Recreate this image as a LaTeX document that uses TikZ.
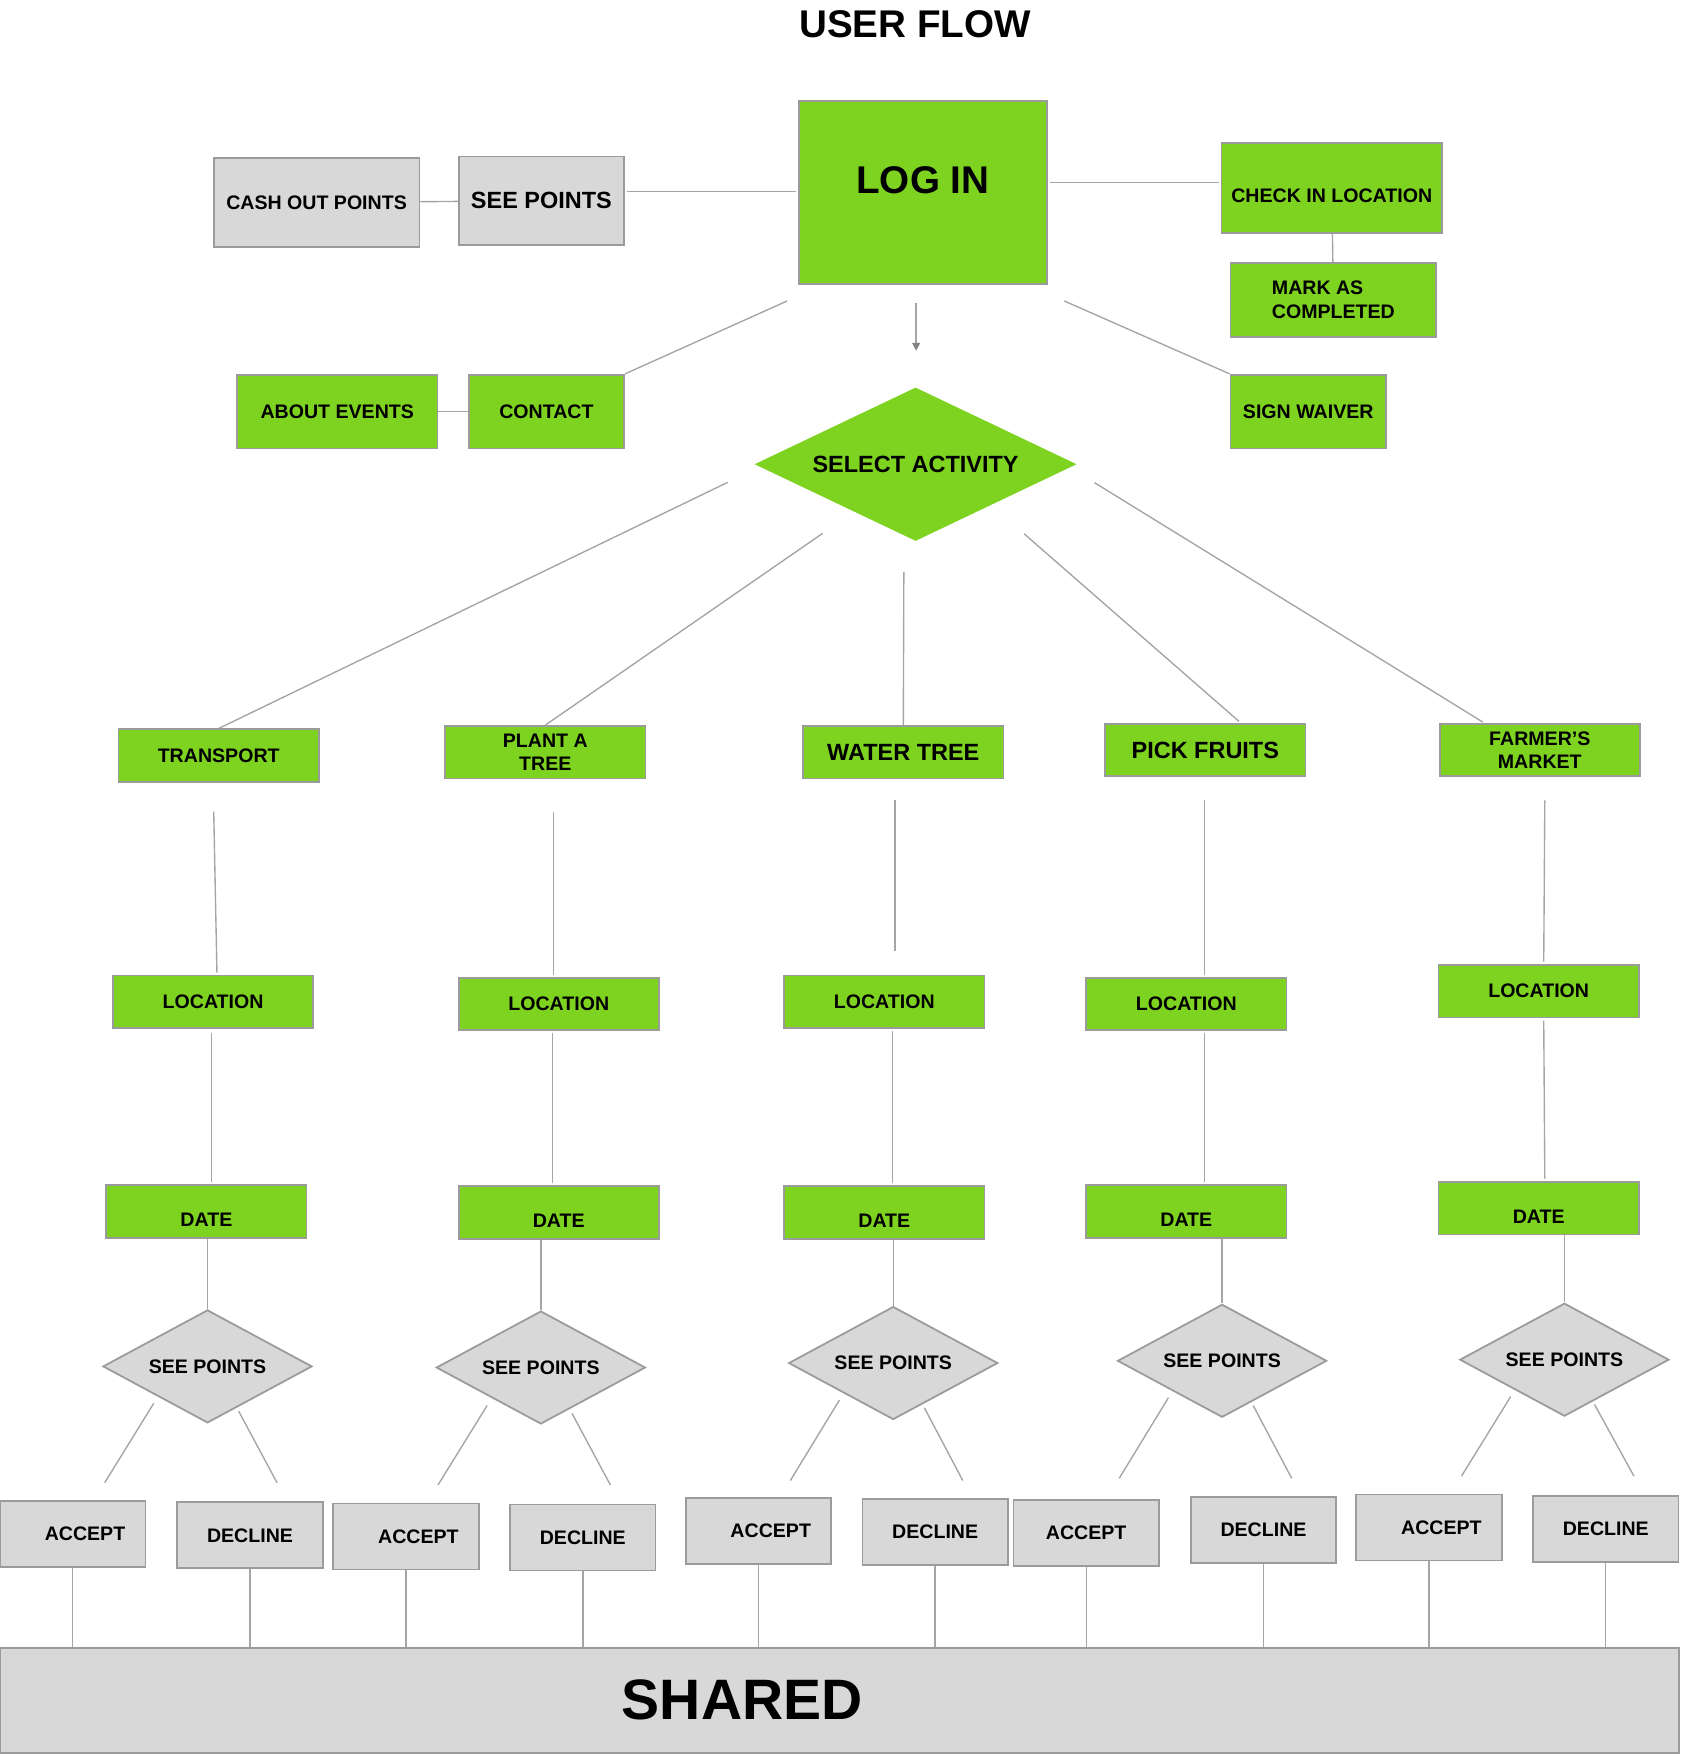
\documentclass[tikz,border=0pt]{standalone}
\usepackage{fontspec}
\setmainfont{Liberation Sans}
\usepackage{tikz}
\usetikzlibrary{shapes.geometric,arrows.meta}
\definecolor{lgreen}{RGB}{126,211,33}
\definecolor{lgray}{RGB}{216,216,216}
\definecolor{boxgray}{RGB}{155,155,155}
\definecolor{linegray}{RGB}{165,165,165}
\definecolor{tipgray}{RGB}{130,130,130}
\newcommand{\flowsmall}{\fontsize{4.98}{5.97}\selectfont\bfseries}
\newcommand{\flowmid}{\fontsize{5.97}{7}\selectfont\bfseries}
\newcommand{\flowbig}{\fontsize{9.82}{11}\selectfont\bfseries}
\newcommand{\flowhuge}{\fontsize{14.5}{16}\selectfont\bfseries}
\pgfdeclarelayer{edgelayer}
\pgfdeclarelayer{nodelayer}
\pgfsetlayers{edgelayer,nodelayer,main}
\tikzstyle{none}=[inner sep=0pt]
\tikzstyle{title}=[inner sep=0pt,font=\flowbig]
\tikzstyle{greenbox}=[rectangle,fill=lgreen,draw=boxgray,line width=0.45pt,inner sep=0pt,font=\flowsmall]
\tikzstyle{graybox}=[rectangle,fill=lgray,draw=boxgray,line width=0.45pt,inner sep=0pt,font=\flowsmall]
\tikzstyle{activity}=[greenbox,minimum width=1.79cm,minimum height=0.47cm]
\tikzstyle{datebox}=[activity,text height=0.27cm]
\tikzstyle{choice}=[graybox,minimum width=1.30cm,minimum height=0.59cm]
\tikzstyle{acceptbox}=[choice,execute at begin node={\hspace*{0.22cm}}]
\tikzstyle{activitydiamond}=[diamond,shape aspect=2.1,fill=lgreen,draw=lgreen,inner sep=0pt,minimum width=2.85cm,minimum height=1.36cm,font=\flowmid]
\tikzstyle{pointsdiamond}=[diamond,shape aspect=1.85,fill=lgray,draw=boxgray,line width=0.45pt,inner sep=0pt,minimum width=1.87cm,minimum height=1.01cm,font=\flowsmall]
\tikzstyle{link}=[-,draw=linegray,line width=0.35pt]
\tikzstyle{inarrow}=[->,>={Triangle[length=0.07cm,width=0.07cm,color=tipgray]},draw=linegray,line width=0.35pt]

\begin{document}
\begin{tikzpicture}
	\useasboundingbox (0, 0) rectangle (15.02, -15.68);
	\begin{pgfonlayer}{nodelayer}
		\node [style=title] (0) at (8.18, -0.22) {USER FLOW};
		\node [style=greenbox, minimum width=2.22cm, minimum height=1.64cm, font=\flowbig, text depth=0.22cm] (1) at (8.25, -1.72) {LOG IN};
		\node [style=graybox, minimum width=1.48cm, minimum height=0.79cm, font=\flowmid] (2) at (4.84, -1.795) {SEE POINTS};
		\node [style=graybox, minimum width=1.84cm, minimum height=0.80cm] (3) at (2.83, -1.81) {CASH OUT POINTS};
		\node [style=greenbox, minimum width=1.97cm, minimum height=0.80cm, text height=0.27cm] (4) at (11.905, -1.68) {CHECK IN LOCATION};
		\node [style=greenbox, minimum width=1.84cm, minimum height=0.66cm, align=left] (5) at (11.92, -2.68) {MARK AS\\COMPLETED};
		\node [style=greenbox, minimum width=1.39cm, minimum height=0.66cm] (6) at (4.885, -3.68) {CONTACT};
		\node [style=greenbox, minimum width=1.79cm, minimum height=0.66cm] (7) at (3.015, -3.68) {ABOUT EVENTS};
		\node [style=greenbox, minimum width=1.39cm, minimum height=0.66cm] (8) at (11.695, -3.68) {SIGN WAIVER};
		\node [style=activitydiamond] (9) at (8.185, -4.15) {SELECT ACTIVITY};
		\node [style=activity] (10) at (1.955, -6.755) {TRANSPORT};
		\node [style=activity, align=center] (11) at (4.875, -6.725) {PLANT A\\TREE};
		\node [style=activity, font=\flowmid] (12) at (8.075, -6.725) {WATER TREE};
		\node [style=activity, font=\flowmid] (13) at (10.775, -6.705) {PICK FRUITS};
		\node [style=activity, align=center] (14) at (13.765, -6.705) {FARMER’S\\MARKET};
		\node [style=activity] (15) at (1.905, -8.955) {LOCATION};
		\node [style=activity] (16) at (4.995, -8.975) {LOCATION};
		\node [style=activity] (17) at (7.905, -8.955) {LOCATION};
		\node [style=activity] (18) at (10.605, -8.975) {LOCATION};
		\node [style=activity] (19) at (13.755, -8.86) {LOCATION};
		\node [style=datebox] (20) at (1.845, -10.83) {DATE};
		\node [style=datebox] (21) at (4.995, -10.84) {DATE};
		\node [style=datebox] (22) at (7.905, -10.84) {DATE};
		\node [style=datebox] (23) at (10.605, -10.83) {DATE};
		\node [style=datebox] (24) at (13.755, -10.80) {DATE};
		\node [style=pointsdiamond] (25) at (1.855, -12.215) {SEE POINTS};
		\node [style=pointsdiamond] (26) at (4.835, -12.225) {SEE POINTS};
		\node [style=pointsdiamond] (27) at (7.985, -12.185) {SEE POINTS};
		\node [style=pointsdiamond] (28) at (10.925, -12.165) {SEE POINTS};
		\node [style=pointsdiamond] (29) at (13.985, -12.155) {SEE POINTS};
		\node [style=acceptbox] (30) at (0.65, -13.71) {ACCEPT};
		\node [style=choice] (31) at (2.235, -13.725) {DECLINE};
		\node [style=acceptbox] (32) at (3.63, -13.735) {ACCEPT};
		\node [style=choice] (33) at (5.21, -13.745) {DECLINE};
		\node [style=acceptbox] (34) at (6.78, -13.685) {ACCEPT};
		\node [style=choice] (35) at (8.36, -13.695) {DECLINE};
		\node [style=choice] (36) at (9.71, -13.705) {ACCEPT};
		\node [style=choice] (37) at (11.295, -13.675) {DECLINE};
		\node [style=acceptbox] (38) at (12.775, -13.655) {ACCEPT};
		\node [style=choice] (39) at (14.355, -13.665) {DECLINE};
		\node [style=graybox, minimum width=15.01cm, minimum height=0.94cm, font=\flowhuge] (40) at (7.505, -15.20) {SHARED\hspace*{1.74cm}};
		\node [style=none] (41) at (5.58, -1.71) {};
		\node [style=none] (42) at (7.14, -1.71) {};
		\node [style=none] (43) at (9.36, -1.63) {};
		\node [style=none] (44) at (10.92, -1.63) {};
		\node [style=none] (45) at (8.19, -2.68) {};
		\node [style=none] (46) at (8.19, -3.16) {};
		\node [style=none] (47) at (7.06, -2.68) {};
		\node [style=none] (48) at (9.49, -2.68) {};
		\node [style=none] (49) at (6.53, -4.30) {};
		\node [style=none] (50) at (7.38, -4.75) {};
		\node [style=none] (51) at (8.08, -5.09) {};
		\node [style=none] (52) at (9.13, -4.75) {};
		\node [style=none] (53) at (11.10, -6.47) {};
		\node [style=none] (54) at (9.76, -4.30) {};
		\node [style=none] (55) at (13.28, -6.47) {};
		\node [style=none] (56) at (1.91, -7.23) {};
		\node [style=none] (57) at (1.94, -8.72) {};
		\node [style=none] (58) at (4.95, -7.23) {};
		\node [style=none] (59) at (4.95, -8.74) {};
		\node [style=none] (60) at (8.00, -7.13) {};
		\node [style=none] (61) at (8.00, -8.53) {};
		\node [style=none] (62) at (10.77, -7.13) {};
		\node [style=none] (63) at (10.77, -8.74) {};
		\node [style=none] (64) at (13.81, -7.13) {};
		\node [style=none] (65) at (13.80, -8.62) {};
		\node [style=none] (66) at (1.89, -9.21) {};
		\node [style=none] (67) at (1.89, -10.59) {};
		\node [style=none] (68) at (4.94, -9.21) {};
		\node [style=none] (69) at (4.94, -10.60) {};
		\node [style=none] (70) at (7.98, -9.19) {};
		\node [style=none] (71) at (7.98, -10.60) {};
		\node [style=none] (72) at (10.77, -9.21) {};
		\node [style=none] (73) at (10.77, -10.59) {};
		\node [style=none] (74) at (13.80, -9.10) {};
		\node [style=none] (75) at (13.81, -10.56) {};
		\node [style=none] (81) at (1.39, -12.52) {};
		\node [style=none] (82) at (0.92, -13.28) {};
		\node [style=none] (83) at (2.12, -12.59) {};
		\node [style=none] (84) at (2.49, -13.28) {};
		\node [style=none] (85) at (4.37, -12.54) {};
		\node [style=none] (86) at (3.90, -13.30) {};
		\node [style=none] (87) at (5.10, -12.61) {};
		\node [style=none] (88) at (5.47, -13.30) {};
		\node [style=none] (89) at (7.52, -12.49) {};
		\node [style=none] (90) at (7.05, -13.26) {};
		\node [style=none] (91) at (8.25, -12.56) {};
		\node [style=none] (92) at (8.62, -13.26) {};
		\node [style=none] (93) at (10.46, -12.47) {};
		\node [style=none] (94) at (9.99, -13.24) {};
		\node [style=none] (95) at (11.19, -12.54) {};
		\node [style=none] (96) at (11.56, -13.24) {};
		\node [style=none] (97) at (13.52, -12.46) {};
		\node [style=none] (98) at (13.05, -13.22) {};
		\node [style=none] (99) at (14.24, -12.53) {};
		\node [style=none] (100) at (14.62, -13.22) {};
	\end{pgfonlayer}
	\begin{pgfonlayer}{edgelayer}
		\draw [style=link] (3) to (2);
		\draw [style=link] (41) to (42);
		\draw [style=link] (43) to (44);
		\draw [style=link] (4) to (5);
		\draw [style=inarrow] (45) to (46);
		\draw [style=link] (47) to (6.north east);
		\draw [style=link] (7) to (6);
		\draw [style=link] (48) to (8.north west);
		\draw [style=link] (49) to (10.north);
		\draw [style=link] (50) to (11.north);
		\draw [style=link] (51) to (12.north);
		\draw [style=link] (52) to (53);
		\draw [style=link] (54) to (55);
		\draw [style=link] (56) to (57);
		\draw [style=link] (58) to (59);
		\draw [style=link] (60) to (61);
		\draw [style=link] (62) to (63);
		\draw [style=link] (64) to (65);
		\draw [style=link] (66) to (67);
		\draw [style=link] (68) to (69);
		\draw [style=link] (70) to (71);
		\draw [style=link] (72) to (73);
		\draw [style=link] (74) to (75);
		\draw [style=link] (20.south -| 25.north) to (25.north);
		\draw [style=link] (21.south -| 26.north) to (26.north);
		\draw [style=link] (22.south -| 27.north) to (27.north);
		\draw [style=link] (23.south -| 28.north) to (28.north);
		\draw [style=link] (24.south -| 29.north) to (29.north);
		\draw [style=link] (81) to (82);
		\draw [style=link] (83) to (84);
		\draw [style=link] (85) to (86);
		\draw [style=link] (87) to (88);
		\draw [style=link] (89) to (90);
		\draw [style=link] (91) to (92);
		\draw [style=link] (93) to (94);
		\draw [style=link] (95) to (96);
		\draw [style=link] (97) to (98);
		\draw [style=link] (99) to (100);
		\draw [style=link] (30) to (30 |- 40.north);
		\draw [style=link] (31) to (31 |- 40.north);
		\draw [style=link] (32) to (32 |- 40.north);
		\draw [style=link] (33) to (33 |- 40.north);
		\draw [style=link] (34) to (34 |- 40.north);
		\draw [style=link] (35) to (35 |- 40.north);
		\draw [style=link] (36) to (36 |- 40.north);
		\draw [style=link] (37) to (37 |- 40.north);
		\draw [style=link] (38) to (38 |- 40.north);
		\draw [style=link] (39) to (39 |- 40.north);
	\end{pgfonlayer}
\end{tikzpicture}
\end{document}
